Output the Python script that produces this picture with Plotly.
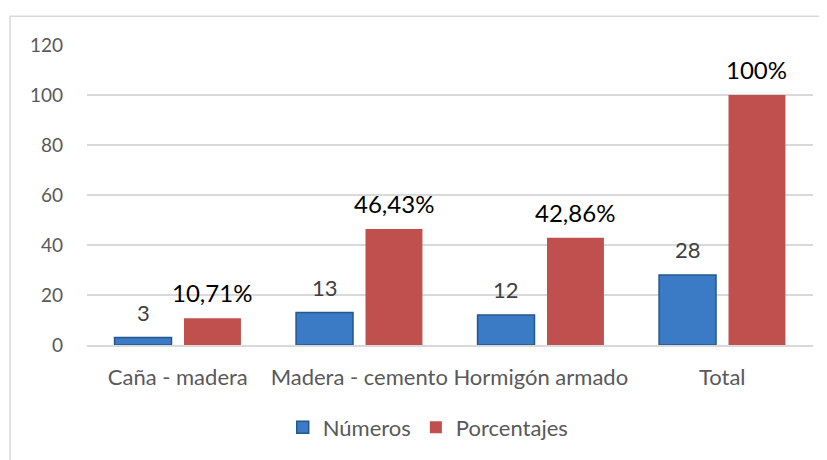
import plotly.graph_objects as go

categories = ["Caña - madera", "Madera - cemento", "Hormigón armado", "Total"]
numeros = [3, 13, 12, 28]
porcentajes = [10.71, 46.43, 42.86, 100]
numeros_labels = ["3", "13", "12", "28"]
porcentajes_labels = ["10,71%", "46,43%", "42,86%", "100%"]
y_ticks = [0, 20, 40, 60, 80, 100, 120]

FONT = "Lato, Carlito, Calibri, sans-serif"
BARGAP = 0.235
BARGROUPGAP = 0.18
half = (1 - BARGAP) / 4  # centre offset of each bar within its group

fig = go.Figure()
fig.add_trace(go.Bar(
    name="Números", x=categories, y=numeros,
    marker=dict(color="#3B7AC4", line=dict(color="#24578F", width=1.5)),
))
fig.add_trace(go.Bar(
    name="Porcentajes", x=categories, y=porcentajes,
    marker=dict(color="#C0504D", line=dict(width=0)),
))

annotations = []
for i, (v, t) in enumerate(zip(numeros, numeros_labels)):
    annotations.append(dict(x=i - half, y=v, xref="x", yref="y", text=t, showarrow=False,
                            yanchor="bottom", yshift=10,
                            font=dict(size=22, color="#404040", family=FONT)))
for i, (v, t) in enumerate(zip(porcentajes, porcentajes_labels)):
    annotations.append(dict(x=i + half, y=v, xref="x", yref="y", text=t, showarrow=False,
                            yanchor="bottom", yshift=9,
                            font=dict(size=24, color="#000000", family=FONT)))

fig.update_layout(
    width=819, height=452,
    margin=dict(l=79, r=14, t=37, b=113),
    paper_bgcolor="white", plot_bgcolor="white",
    barmode="group", bargap=BARGAP, bargroupgap=BARGROUPGAP,
    font=dict(family=FONT, size=18, color="#595959"),
    showlegend=True,
    legend=dict(orientation="h", x=0.47, xanchor="center", y=-0.275, yanchor="middle",
                font=dict(size=22, color="#595959"), itemwidth=30, traceorder="normal"),
    xaxis=dict(showgrid=False, showline=True, linecolor="#D9D9D9", linewidth=1.5,
               ticks="", tickfont=dict(size=22, color="#595959"), ticklabelstandoff=12),
    yaxis=dict(range=[0, 120], tickvals=y_ticks, showgrid=True, gridcolor="#D9D9D9",
               gridwidth=1.5, zeroline=False, showline=False, ticks="",
               tickfont=dict(size=19, color="#595959"), ticklabelstandoff=23),
    annotations=annotations,
    shapes=[dict(type="rect", xref="paper", yref="paper", x0=-0.106, x1=1.2,
                 y0=-0.6, y1=1.096, line=dict(color="#D9D9D9", width=1.5),
                 fillcolor="rgba(0,0,0,0)", layer="below")],
)

fig.write_html("out.html")
